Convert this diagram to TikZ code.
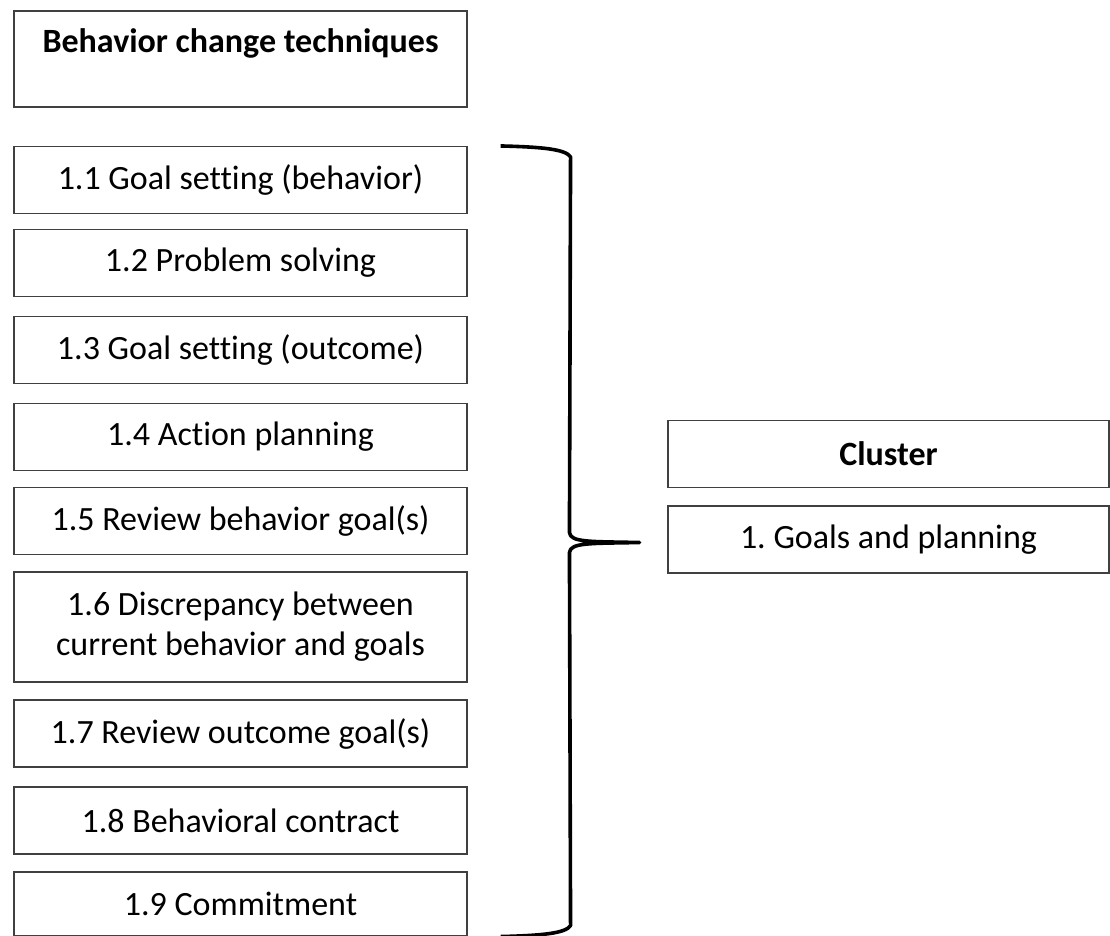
\documentclass[tikz,border=0pt]{standalone}
\usepackage{fontspec}
\setmainfont{Carlito}[Ligatures=NoCommon]
\usetikzlibrary{calc}
\frenchspacing

\tikzset{
  bct/.style={draw=black!75, line width=1.1pt, minimum width=453pt, minimum height=67pt,
    inner sep=0pt, align=center, font=\fontsize{34}{40}\selectfont},
  clus/.style={bct, minimum width=441pt},
  brace/.style={line width=3.6pt, line join=round},
}

\begin{document}
\begin{tikzpicture}[x=1pt,y=-1pt]
  \useasboundingbox (0,0) rectangle (1110,936);

  % left column
  \node[bct, minimum height=96pt, text height=24pt, text depth=36pt] (hdr) at (240.5,59) {\textbf{Behavior change techniques}};
  \node[bct] (b11) at (240.5,180) {1.1 Goal setting (behavior)};
  \node[bct] (b12) at (240.5,263) {1.2 Problem solving};
  \node[bct] (b13) at (240.5,350) {1.3 Goal setting (outcome)};
  \node[bct] (b14) at (240.5,437) {1.4 Action planning};
  \node[bct] (b15) at (240.5,521) {1.5 Review behavior goal(s)};
  \node[bct, minimum height=110pt] (b16) at (240.5,627) {1.6 Discrepancy between\\current behavior and goals};
  \node[bct] (b17) at (240.5,733.5) {1.7 Review outcome goal(s)};
  \node[bct] (b18) at (240.5,820.5) {1.8 Behavioral contract};
  \node[bct, minimum height=64pt] (b19) at (240.5,904) {1.9 Commitment};

  % right column
  \node[clus] (clh) at (888.5,454) {\textbf{Cluster}};
  \node[clus] (goals) at (888.5,539.5) {1. Goals and planning};

  % brace
  \coordinate (brtop) at ($(b11.north east)+(33,0)$);
  \coordinate (brbot) at ($(b19.south east)+(33,0)$);
  \coordinate (brtip) at ($(goals.west)+(-28,3)$);
  \draw[brace] (brtop) .. controls +(40,1) and +(-5,-8) .. ($(brtop)+(70,11)$)
    -- ($(brtip)+(-70,-10)$) .. controls +(1,10) and +(-50,-1) .. (brtip)
    .. controls +(-50,1) and +(1,-10) .. ($(brtip)+(-70,10)$)
    -- ($(brbot)+(70,-11)$) .. controls +(-5,8) and +(40,-1) .. (brbot);
\end{tikzpicture}
\end{document}
